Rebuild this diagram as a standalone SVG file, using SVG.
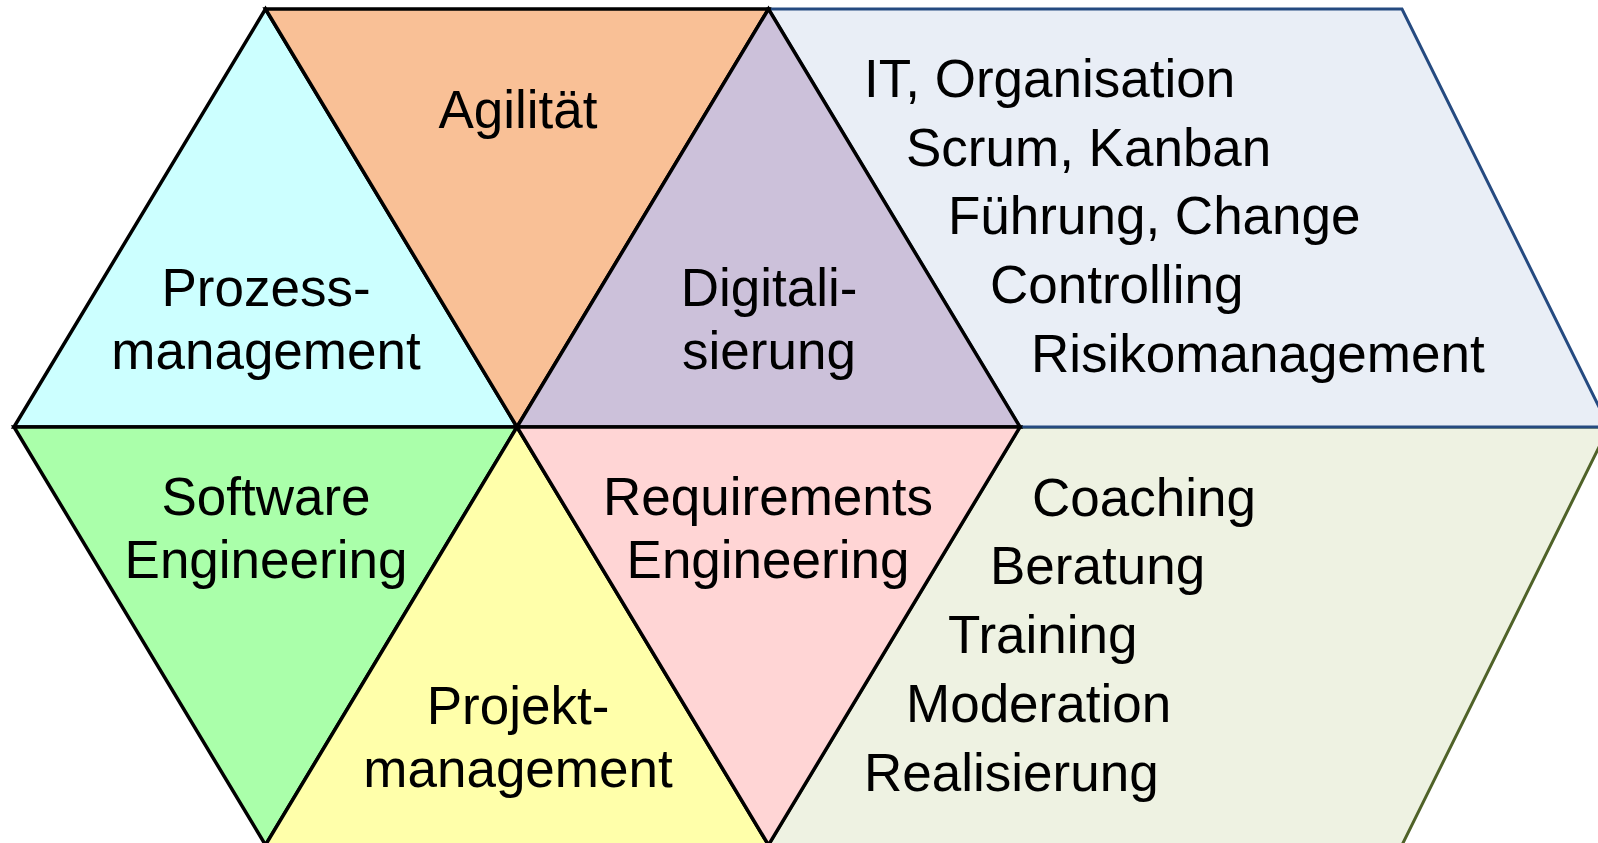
<svg xmlns="http://www.w3.org/2000/svg" width="1598" height="843" viewBox="0 0 1598 843">
<style>
.tri{stroke:#000;stroke-width:3.5;stroke-linejoin:miter}
.t{font-family:"Liberation Sans",Arial,sans-serif;font-size:53px;fill:#000}
.c{text-anchor:middle}
</style>
<rect width="1598" height="843" fill="#fff"/>
<g id="panel-bottom">
<polygon points="1020,427 1609,427 1402,845 768.5,845" fill="#EEF2E2" stroke="#4F6228" stroke-width="3"/>
<text class="t" x="1032" y="516">Coaching</text>
<text class="t" x="990" y="584">Beratung</text>
<text class="t" x="948" y="653">Training</text>
<text class="t" x="906" y="722">Moderation</text>
<text class="t" x="864" y="791">Realisierung</text>
</g>
<g id="panel-top">
<polygon points="768.5,9 1402,9 1609,427 1020,427" fill="#E9EEF6" stroke="#254A80" stroke-width="3"/>
<text class="t" x="864" y="97">IT, Organisation</text>
<text class="t" x="906" y="166">Scrum, Kanban</text>
<text class="t" x="948" y="234">Führung, Change</text>
<text class="t" x="990" y="303">Controlling</text>
<text class="t" x="1031" y="372">Risikomanagement</text>
</g>
<g id="prozessmanagement">
<polygon class="tri" points="14,427 265.5,9 517,427" fill="#CCFFFF"/>
<text class="t c" x="266" y="306">Prozess-</text>
<text class="t c" x="266" y="369">management</text>
</g>
<g id="agilitaet">
<polygon class="tri" points="265.5,9 768.5,9 517,427" fill="#F9C096"/>
<text class="t c" x="518" y="128">Agilität</text>
</g>
<g id="digitalisierung">
<polygon class="tri" points="768.5,9 1020,427 517,427" fill="#CCC1DA"/>
<text class="t c" x="769" y="306">Digitali-</text>
<text class="t c" x="769" y="369">sierung</text>
</g>
<g id="software-engineering">
<polygon class="tri" points="14,427 517,427 265.5,845" fill="#AAFFAA"/>
<text class="t c" x="266" y="515">Software</text>
<text class="t c" x="266" y="578">Engineering</text>
</g>
<g id="projektmanagement">
<polygon class="tri" points="517,427 768.5,845 265.5,845" fill="#FFFFAA"/>
<text class="t c" x="518" y="724">Projekt-</text>
<text class="t c" x="518" y="787">management</text>
</g>
<g id="requirements-engineering">
<polygon class="tri" points="517,427 1020,427 768.5,845" fill="#FFD5D5"/>
<text class="t c" x="768" y="515">Requirements</text>
<text class="t c" x="768" y="578">Engineering</text>
</g>
<g id="connectors"></g>
</svg>
